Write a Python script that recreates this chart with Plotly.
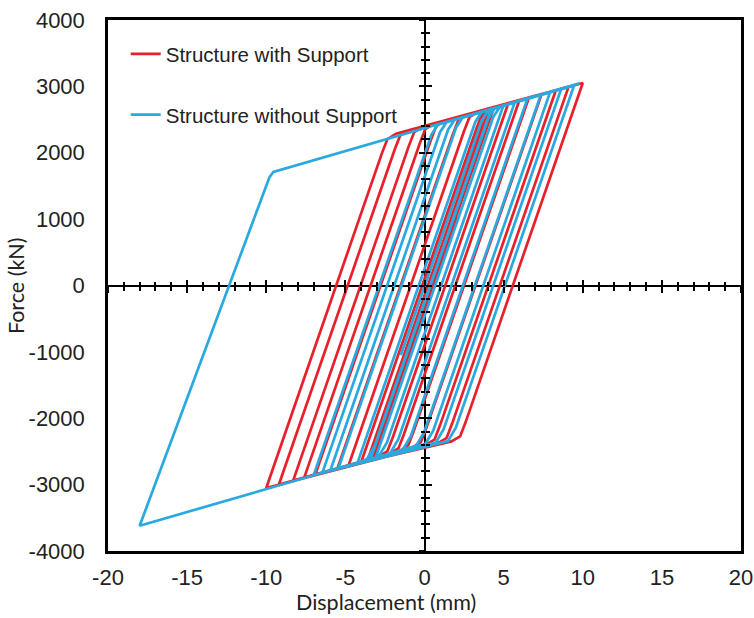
import plotly.graph_objects as go

# ---- data (vertices of each hysteresis path) ----
red_disp = [0, 3.45, 3.80, 4.40,
            -2.89, -3.24, -3.79, -4.00,
            3.29, 3.64, 4.19, 5.30,
            -1.99, -2.34, -2.89, -5.50,
            1.79, 2.14, 2.69, 6.00,
            -1.29, -1.64, -2.19, -6.90,
            0.39, 0.74, 1.29, 6.60,
            -0.68, -1.03, -1.58, -7.60,
            -0.30, 0.05, 0.60, 7.40,
            0.12, -0.23, -0.78, -8.30,
            -1.00, -0.65, -0.10, 8.30,
            0.98, 0.63, 0.08, -9.20,
            -1.90, -1.55, -1.00, 9.10,
            1.74, 1.39, 0.84, -10.00,
            -2.70, -2.35, -1.80, 10.00,
            2.60, 2.25, 1.70, -4.80,
            2.49, 2.84, 3.39, 6.00,
            -1.29, -1.64, -2.19, -3.60,
            3.69, 4.04, 4.59, 6.00,
            -1.29, -1.64, -2.19, -3.20,
            2.10]
red_force = [0, 2380, 2596, 2692,
             -2338, -2554, -2639, -2660,
             2370, 2586, 2671, 2749,
             -2279, -2495, -2580, -2758,
             2274, 2490, 2575, 2794,
             -2234, -2450, -2535, -2849,
             2185, 2401, 2486, 2832,
             -2194, -2410, -2495, -2894,
             2140, 2356, 2441, 2884,
             -2142, -2358, -2443, -2940,
             2096, 2312, 2397, 2941,
             -2107, -2323, -2398, -2998,
             2038, 2254, 2339, 2992,
             -2084, -2300, -2375, -3050,
             1987, 2203, 2288, 3050,
             -2058, -2274, -2349, -2712,
             2319, 2535, 2620, 2794,
             -2234, -2450, -2535, -2634,
             2396, 2612, 2697, 2794,
             -2234, -2450, -2535, -2608,
             1040]

blue_disp = [-1.50, 3.63, 4.03, 4.20,
             -3.15, -3.65, -4.24,
             3.21, 3.61, 4.98,
             -2.38, -2.88, -3.42,
             4.03, 4.43, 5.70,
             -1.66, -2.16, -3.10,
             4.35, 4.75, 7.34,
             -0.03, -0.53, -5.44,
             2.00, 2.40, 7.93,
             0.55, 0.05, -5.95,
             1.49, 1.89, 8.63,
             1.21, 0.71, -6.45,
             0.99, 1.39, 9.45,
             1.98, 1.48, -7.00,
             0.44, 0.84, 6.50,
             -0.86, -1.36, -18.00,
             -9.80, -9.55, 9.80]
blue_force = [-1050, 2492, 2638, 2656,
              -2417, -2619, -2676,
              2464, 2610, 2709,
              -2367, -2569, -2622,
              2520, 2666, 2758,
              -2320, -2522, -2602,
              2541, 2687, 2869,
              -2214, -2416, -2754,
              2382, 2528, 2909,
              -2186, -2388, -2787,
              2347, 2493, 2957,
              -2166, -2368, -2819,
              2313, 2459, 3013,
              -2143, -2345, -2855,
              2275, 2421, 2812,
              -2268, -2470, -3620,
              1630, 1712, 3046]

series_names = ["Structure with Support", "Structure without Support"]
x_ticks = [-20, -15, -10, -5, 0, 5, 10, 15, 20]
x_tick_text = ["-20", "-15", "-10", "-5", "0", "5", "10", "15", "20"]
y_ticks = [-4000, -3000, -2000, -1000, 0, 1000, 2000, 3000, 4000]
y_tick_text = ["-4000", "-3000", "-2000", "-1000", "0", "1000", "2000", "3000", "4000"]
x_title = "Displacement (mm)"
y_title = "Force (kN)"

RED = "#E8202A"
BLUE = "#29A9E0"
TICK_FONT = dict(family="Liberation Sans, Arial", size=22, color="#222222")
TITLE_FONT = dict(family="Lato", size=21.5, color="#222222")

fig = go.Figure()
fig.add_trace(go.Scatter(x=red_disp, y=red_force, mode="lines", name=series_names[0],
                         line=dict(color=RED, width=2.7), legendgroup="a"))
fig.add_trace(go.Scatter(x=blue_disp, y=blue_force, mode="lines", name=series_names[1],
                         line=dict(color=BLUE, width=2.7), legendgroup="b"))
# empty traces so the crossing-tick axes at zero are drawn
fig.add_trace(go.Scatter(x=[], y=[], xaxis="x2", yaxis="y2", showlegend=False, hoverinfo="skip"))
fig.add_trace(go.Scatter(x=[], y=[], xaxis="x3", yaxis="y3", showlegend=False, hoverinfo="skip"))

xr = [x_ticks[0], x_ticks[-1]]
yr = [y_ticks[0], y_ticks[-1]]

common_x_tick = dict(range=xr, showgrid=False, zeroline=False, showline=False,
                     showticklabels=False, tick0=0, dtick=5, ticklen=6, tickwidth=1.5,
                     tickcolor="black", overlaying="x", anchor="free", position=0.5,
                     automargin=False)
common_y_tick = dict(range=yr, showgrid=False, zeroline=False, showline=False,
                     showticklabels=False, tick0=0, dtick=1000, ticklen=6, tickwidth=1.5,
                     tickcolor="black", overlaying="y", anchor="free", position=0.5,
                     automargin=False)

fig.update_layout(
    width=754, height=618,
    margin=dict(l=108, r=13, t=20, b=67, autoexpand=False),
    plot_bgcolor="white", paper_bgcolor="white",
    xaxis=dict(range=xr, tickvals=x_ticks, ticktext=x_tick_text, ticks="", showgrid=False,
               showline=True, mirror=True, linecolor="black", linewidth=2.5,
               zeroline=True, zerolinecolor="black", zerolinewidth=1.5,
               tickfont=TICK_FONT, ticklabelstandoff=5, automargin=False),
    yaxis=dict(range=yr, tickvals=y_ticks, ticktext=y_tick_text, ticks="", showgrid=False,
               showline=True, mirror=True, linecolor="black", linewidth=2.5,
               zeroline=True, zerolinecolor="black", zerolinewidth=1.5,
               tickfont=TICK_FONT, ticklabelstandoff=16, automargin=False),
    xaxis2=dict(common_x_tick, ticks="outside",
                minor=dict(ticks="outside", tick0=0, dtick=1, ticklen=4, tickwidth=1.5, tickcolor="black")),
    xaxis3=dict(common_x_tick, ticks="inside",
                minor=dict(ticks="inside", tick0=0, dtick=1, ticklen=4, tickwidth=1.5, tickcolor="black")),
    yaxis2=dict(common_y_tick, ticks="outside",
                minor=dict(ticks="outside", tick0=0, dtick=200, ticklen=4, tickwidth=1.5, tickcolor="black")),
    yaxis3=dict(common_y_tick, ticks="inside",
                minor=dict(ticks="inside", tick0=0, dtick=200, ticklen=4, tickwidth=1.5, tickcolor="black")),
    legend=dict(x=0.028, y=0.9735, xanchor="left", yanchor="top",
                bgcolor="rgba(0,0,0,0)", borderwidth=0, tracegroupgap=31,
                font=dict(family="Liberation Sans, Arial", size=20.5, color="#222222")),
    annotations=[
        dict(text=x_title, xref="paper", yref="paper", x=0.439, y=-0.1243,
             xanchor="center", yanchor="bottom", showarrow=False, font=TITLE_FONT),
        dict(text=y_title, xref="paper", yref="paper", x=-0.146, y=0.5, textangle=-90,
             xanchor="center", yanchor="middle", showarrow=False, font=TITLE_FONT),
    ],
)

fig.write_html("out.html")
